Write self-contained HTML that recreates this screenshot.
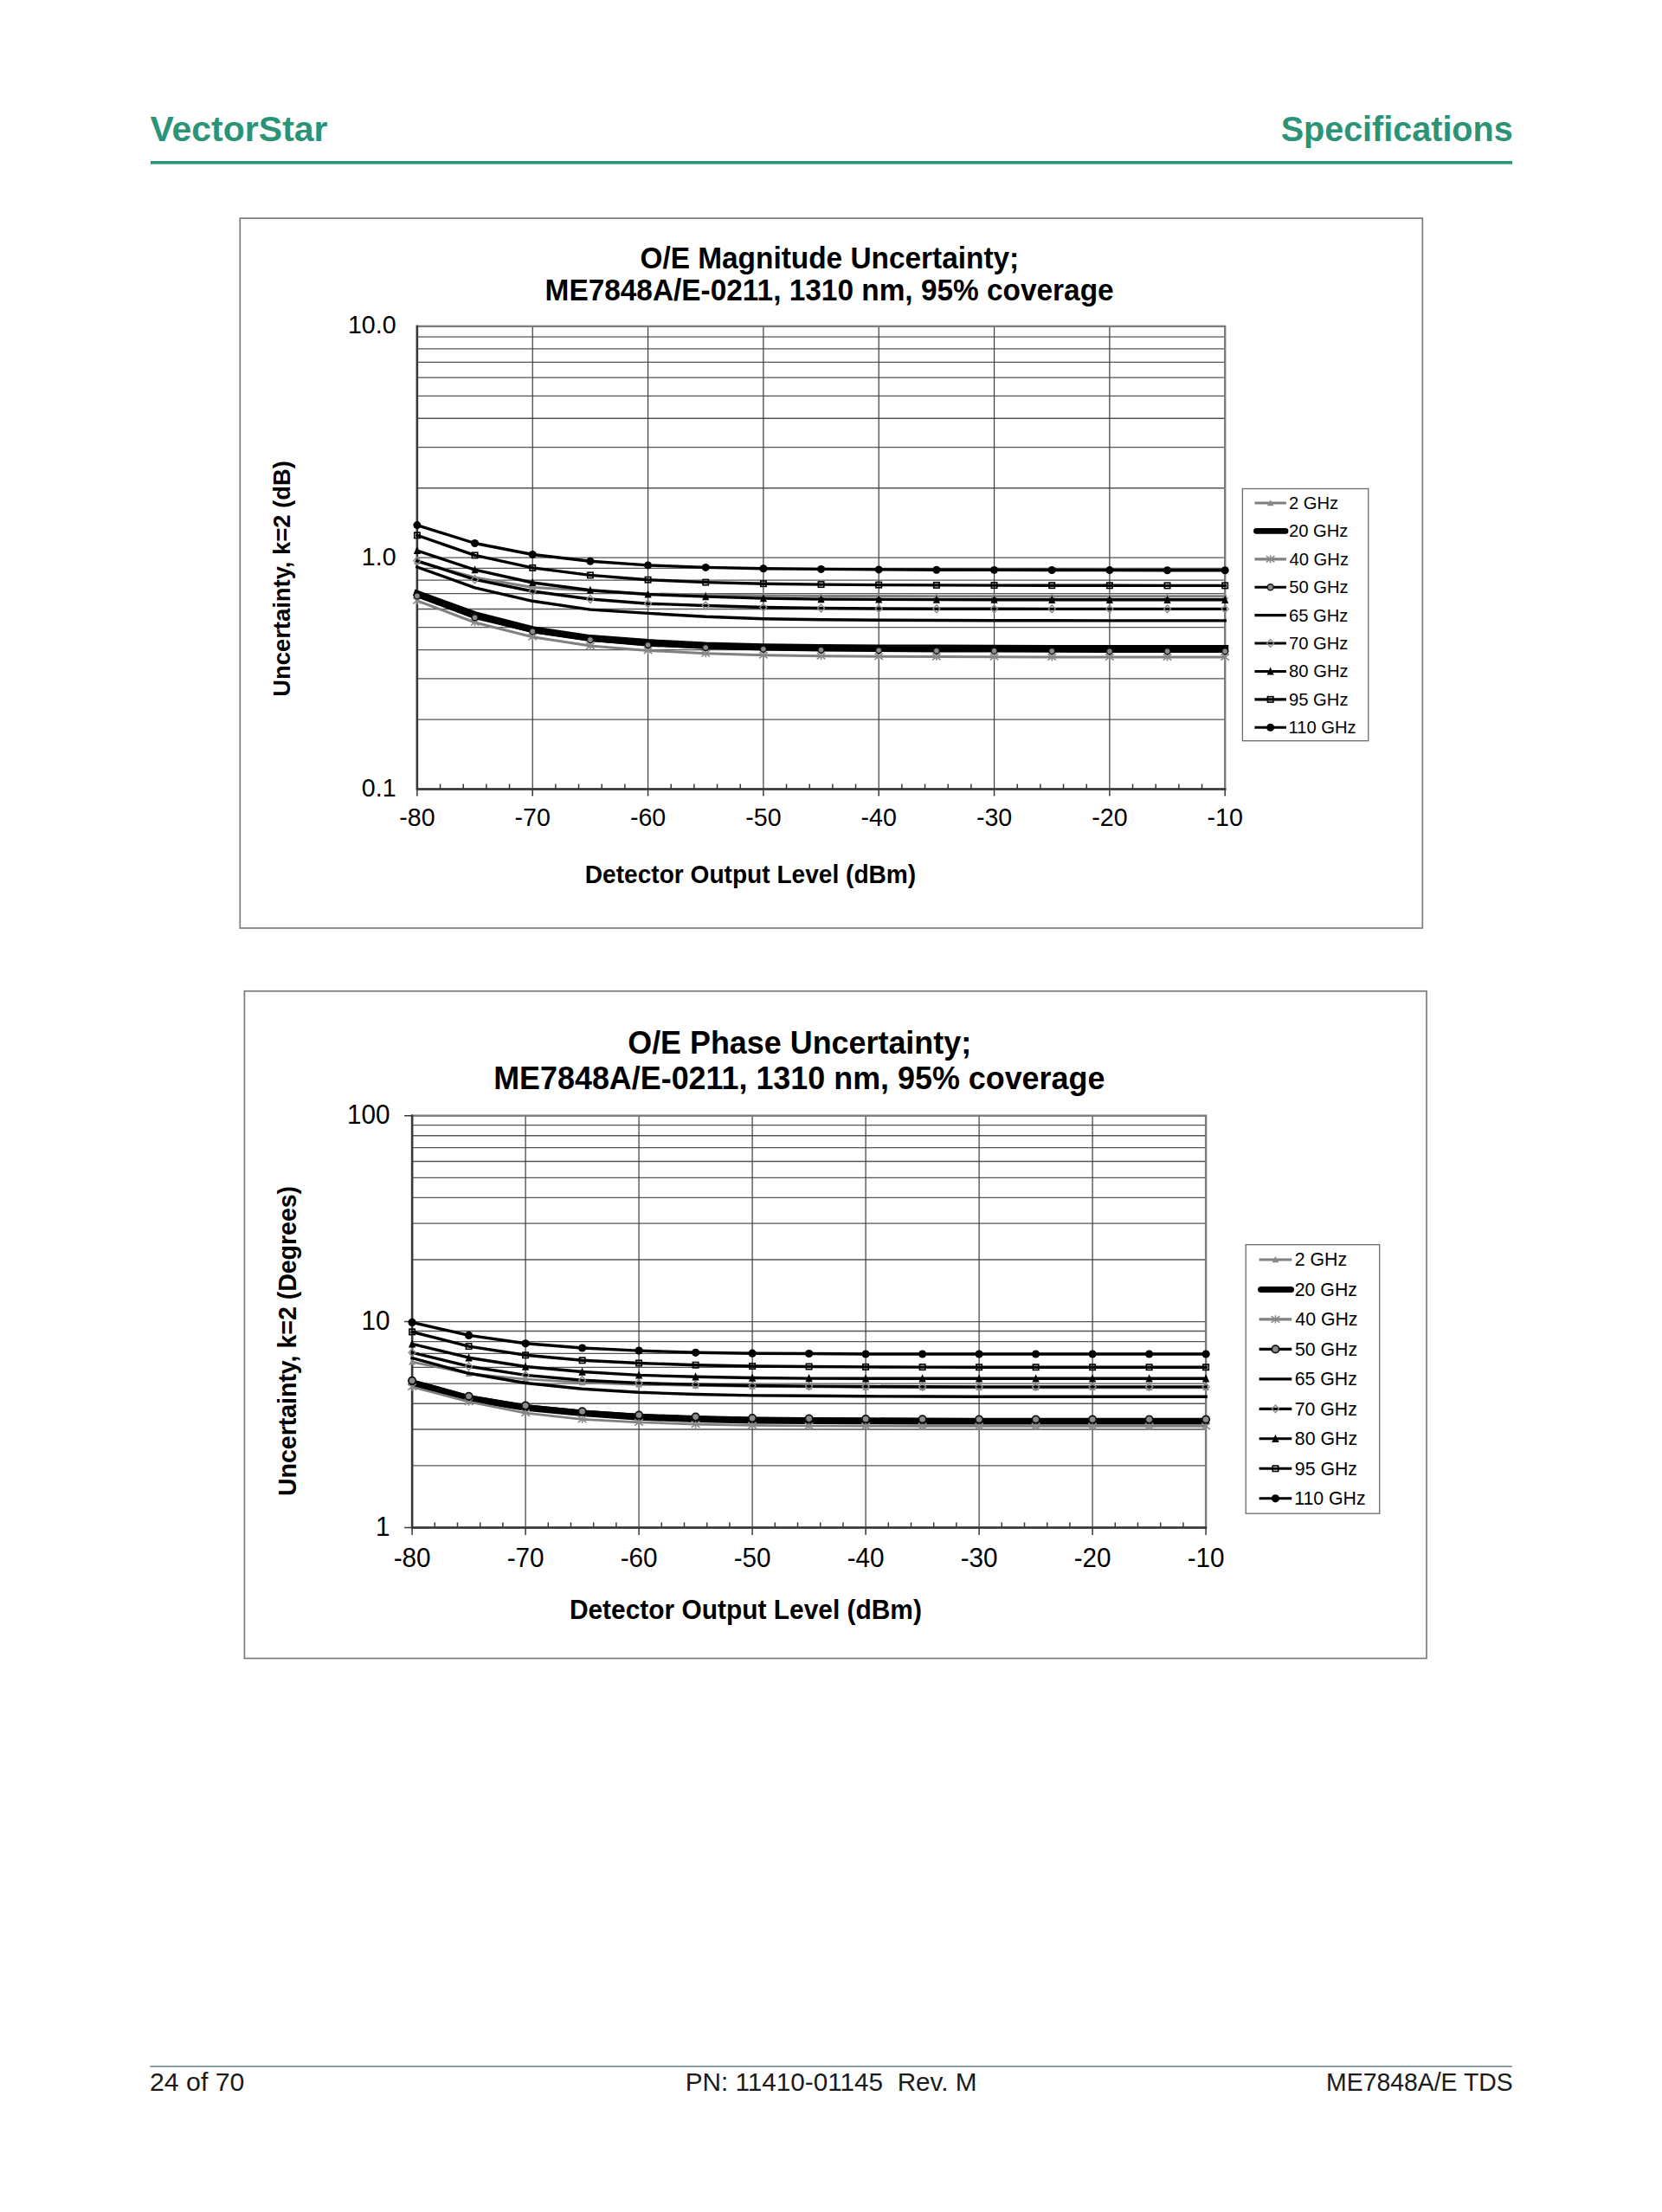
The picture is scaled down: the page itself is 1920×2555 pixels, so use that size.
<!DOCTYPE html>
<html><head><meta charset="utf-8"><title>VectorStar Specifications</title>
<style>html,body{margin:0;padding:0;background:#fff}body{width:1920px;height:2555px;position:relative;overflow:hidden}svg{position:absolute;left:0;top:0;font-family:"Liberation Sans",sans-serif}text{white-space:pre}</style>
</head><body>
<svg width="1920" height="2555" viewBox="0 0 1920 2555">
<text x="173.42" y="162.70" font-size="40.5" font-weight="bold" text-anchor="start" fill="#2c9476"  textLength="205.19" lengthAdjust="spacingAndGlyphs">VectorStar</text>
<text x="1479.63" y="162.70" font-size="40.5" font-weight="bold" text-anchor="start" fill="#2c9476"  textLength="268.03" lengthAdjust="spacingAndGlyphs">Specifications</text>
<rect x="174" y="186" width="1573" height="3.6" fill="#2c9476"/>
<rect x="277.3" y="252.1" width="1366.0" height="819.9" fill="none" stroke="#7c7c7c" stroke-width="1.7"/>
<path d="M481.9 831.03H1415.2 M481.9 783.97H1415.2 M481.9 750.57H1415.2 M481.9 724.67H1415.2 M481.9 703.50H1415.2 M481.9 685.61H1415.2 M481.9 670.10H1415.2 M481.9 656.43H1415.2 M481.9 644.20H1415.2 M481.9 563.73H1415.2 M481.9 516.67H1415.2 M481.9 483.27H1415.2 M481.9 457.37H1415.2 M481.9 436.20H1415.2 M481.9 418.31H1415.2 M481.9 402.80H1415.2 M481.9 389.13H1415.2" stroke="#555" stroke-width="1.3" fill="none"/>
<path d="M615.23 376.9V911.5 M748.56 376.9V911.5 M881.89 376.9V911.5 M1015.21 376.9V911.5 M1148.54 376.9V911.5 M1281.87 376.9V911.5" stroke="#3c3c3c" stroke-width="1.2" fill="none"/>
<rect x="481.9" y="376.9" width="933.30" height="534.60" fill="none" stroke="#7c7c7c" stroke-width="2.4"/>
<path d="M481.9 375.7V912.7M480.7 911.5H1416.4" stroke="#383838" stroke-width="2.4" fill="none"/>
<path d="M481.90 911.5v8 M508.57 911.5v-6 M535.23 911.5v-6 M561.90 911.5v-6 M588.56 911.5v-6 M615.23 911.5v8 M641.89 911.5v-6 M668.56 911.5v-6 M695.23 911.5v-6 M721.89 911.5v-6 M748.56 911.5v8 M775.22 911.5v-6 M801.89 911.5v-6 M828.55 911.5v-6 M855.22 911.5v-6 M881.89 911.5v8 M908.55 911.5v-6 M935.22 911.5v-6 M961.88 911.5v-6 M988.55 911.5v-6 M1015.21 911.5v8 M1041.88 911.5v-6 M1068.55 911.5v-6 M1095.21 911.5v-6 M1121.88 911.5v-6 M1148.54 911.5v8 M1175.21 911.5v-6 M1201.87 911.5v-6 M1228.54 911.5v-6 M1255.21 911.5v-6 M1281.87 911.5v8 M1308.54 911.5v-6 M1335.20 911.5v-6 M1361.87 911.5v-6 M1388.53 911.5v-6 M1415.20 911.5v8" stroke="#383838" stroke-width="1.5" fill="none"/>
<polyline points="481.90,648.50 548.56,667.00 615.23,678.40 681.89,682.30 748.56,685.90 815.22,687.00 881.89,687.90 948.55,688.40 1015.21,688.60 1081.88,688.70 1148.54,688.80 1215.21,688.80 1281.87,688.80 1348.54,688.80 1415.20,688.80" fill="none" stroke="#808080" stroke-width="3.0" stroke-linejoin="round" stroke-linecap="square"/>
<path d="M481.90 644.63L485.77 651.73L478.03 651.73Z" fill="#8a8a8a"/>
<path d="M548.56 663.13L552.43 670.23L544.69 670.23Z" fill="#8a8a8a"/>
<path d="M615.23 674.53L619.10 681.62L611.36 681.62Z" fill="#8a8a8a"/>
<path d="M681.89 678.43L685.76 685.52L678.02 685.52Z" fill="#8a8a8a"/>
<path d="M748.56 682.03L752.43 689.12L744.69 689.12Z" fill="#8a8a8a"/>
<path d="M815.22 683.13L819.09 690.23L811.35 690.23Z" fill="#8a8a8a"/>
<path d="M881.89 684.03L885.76 691.12L878.02 691.12Z" fill="#8a8a8a"/>
<path d="M948.55 684.53L952.42 691.62L944.68 691.62Z" fill="#8a8a8a"/>
<path d="M1015.21 684.73L1019.08 691.83L1011.34 691.83Z" fill="#8a8a8a"/>
<path d="M1081.88 684.83L1085.75 691.93L1078.01 691.93Z" fill="#8a8a8a"/>
<path d="M1148.54 684.93L1152.41 692.02L1144.67 692.02Z" fill="#8a8a8a"/>
<path d="M1215.21 684.93L1219.08 692.02L1211.34 692.02Z" fill="#8a8a8a"/>
<path d="M1281.87 684.93L1285.74 692.02L1278.00 692.02Z" fill="#8a8a8a"/>
<path d="M1348.54 684.93L1352.41 692.02L1344.67 692.02Z" fill="#8a8a8a"/>
<path d="M1415.20 684.93L1419.07 692.02L1411.33 692.02Z" fill="#8a8a8a"/>
<polyline points="481.90,685.70 548.56,710.00 615.23,727.20 681.89,737.10 748.56,742.10 815.22,745.50 881.89,747.20 948.55,748.00 1015.21,748.40 1081.88,748.60 1148.54,748.80 1215.21,748.90 1281.87,748.90 1348.54,748.90 1415.20,748.90" fill="none" stroke="#000" stroke-width="8.0" stroke-linejoin="round" stroke-linecap="square"/>















<polyline points="481.90,693.80 548.56,719.00 615.23,735.80 681.89,746.10 748.56,751.40 815.22,754.80 881.89,756.80 948.55,757.80 1015.21,758.30 1081.88,758.60 1148.54,758.80 1215.21,758.90 1281.87,759.00 1348.54,759.00 1415.20,759.00" fill="none" stroke="#808080" stroke-width="3.0" stroke-linejoin="round" stroke-linecap="square"/>
<path d="M477.17 690.14L486.63 697.45M486.63 690.14L477.17 697.45M481.90 689.28V698.31" stroke="#8a8a8a" stroke-width="1.6" fill="none"/>
<path d="M543.83 715.35L553.29 722.65M553.29 715.35L543.83 722.65M548.56 714.49V723.51" stroke="#8a8a8a" stroke-width="1.6" fill="none"/>
<path d="M610.50 732.14L619.96 739.45M619.96 732.14L610.50 739.45M615.23 731.28V740.31" stroke="#8a8a8a" stroke-width="1.6" fill="none"/>
<path d="M677.16 742.45L686.62 749.75M686.62 742.45L677.16 749.75M681.89 741.59V750.62" stroke="#8a8a8a" stroke-width="1.6" fill="none"/>
<path d="M743.83 747.75L753.29 755.05M753.29 747.75L743.83 755.05M748.56 746.88V755.91" stroke="#8a8a8a" stroke-width="1.6" fill="none"/>
<path d="M810.49 751.14L819.95 758.45M819.95 751.14L810.49 758.45M815.22 750.28V759.31" stroke="#8a8a8a" stroke-width="1.6" fill="none"/>
<path d="M877.16 753.14L886.62 760.45M886.62 753.14L877.16 760.45M881.89 752.28V761.31" stroke="#8a8a8a" stroke-width="1.6" fill="none"/>
<path d="M943.82 754.14L953.28 761.45M953.28 754.14L943.82 761.45M948.55 753.28V762.31" stroke="#8a8a8a" stroke-width="1.6" fill="none"/>
<path d="M1010.48 754.64L1019.94 761.95M1019.94 754.64L1010.48 761.95M1015.21 753.78V762.81" stroke="#8a8a8a" stroke-width="1.6" fill="none"/>
<path d="M1077.15 754.95L1086.61 762.25M1086.61 754.95L1077.15 762.25M1081.88 754.09V763.12" stroke="#8a8a8a" stroke-width="1.6" fill="none"/>
<path d="M1143.81 755.14L1153.27 762.45M1153.27 755.14L1143.81 762.45M1148.54 754.28V763.31" stroke="#8a8a8a" stroke-width="1.6" fill="none"/>
<path d="M1210.48 755.25L1219.94 762.55M1219.94 755.25L1210.48 762.55M1215.21 754.38V763.41" stroke="#8a8a8a" stroke-width="1.6" fill="none"/>
<path d="M1277.14 755.35L1286.60 762.65M1286.60 755.35L1277.14 762.65M1281.87 754.49V763.51" stroke="#8a8a8a" stroke-width="1.6" fill="none"/>
<path d="M1343.81 755.35L1353.27 762.65M1353.27 755.35L1343.81 762.65M1348.54 754.49V763.51" stroke="#8a8a8a" stroke-width="1.6" fill="none"/>
<path d="M1410.47 755.35L1419.93 762.65M1419.93 755.35L1410.47 762.65M1415.20 754.49V763.51" stroke="#8a8a8a" stroke-width="1.6" fill="none"/>
<polyline points="481.90,688.40 548.56,713.30 615.23,729.40 681.89,739.10 748.56,745.00 815.22,748.00 881.89,749.70 948.55,750.70 1015.21,751.30 1081.88,751.70 1148.54,751.90 1215.21,752.10 1281.87,752.20 1348.54,752.20 1415.20,752.20" fill="none" stroke="#000" stroke-width="3.4" stroke-linejoin="round" stroke-linecap="square"/>
<circle cx="481.90" cy="688.40" r="3.50" fill="#8c8c8c" stroke="#111" stroke-width="1.4"/>
<circle cx="548.56" cy="713.30" r="3.50" fill="#8c8c8c" stroke="#111" stroke-width="1.4"/>
<circle cx="615.23" cy="729.40" r="3.50" fill="#8c8c8c" stroke="#111" stroke-width="1.4"/>
<circle cx="681.89" cy="739.10" r="3.50" fill="#8c8c8c" stroke="#111" stroke-width="1.4"/>
<circle cx="748.56" cy="745.00" r="3.50" fill="#8c8c8c" stroke="#111" stroke-width="1.4"/>
<circle cx="815.22" cy="748.00" r="3.50" fill="#8c8c8c" stroke="#111" stroke-width="1.4"/>
<circle cx="881.89" cy="749.70" r="3.50" fill="#8c8c8c" stroke="#111" stroke-width="1.4"/>
<circle cx="948.55" cy="750.70" r="3.50" fill="#8c8c8c" stroke="#111" stroke-width="1.4"/>
<circle cx="1015.21" cy="751.30" r="3.50" fill="#8c8c8c" stroke="#111" stroke-width="1.4"/>
<circle cx="1081.88" cy="751.70" r="3.50" fill="#8c8c8c" stroke="#111" stroke-width="1.4"/>
<circle cx="1148.54" cy="751.90" r="3.50" fill="#8c8c8c" stroke="#111" stroke-width="1.4"/>
<circle cx="1215.21" cy="752.10" r="3.50" fill="#8c8c8c" stroke="#111" stroke-width="1.4"/>
<circle cx="1281.87" cy="752.20" r="3.50" fill="#8c8c8c" stroke="#111" stroke-width="1.4"/>
<circle cx="1348.54" cy="752.20" r="3.50" fill="#8c8c8c" stroke="#111" stroke-width="1.4"/>
<circle cx="1415.20" cy="752.20" r="3.50" fill="#8c8c8c" stroke="#111" stroke-width="1.4"/>
<polyline points="481.90,655.00 548.56,678.80 615.23,694.30 681.89,704.10 748.56,708.40 815.22,712.30 881.89,714.70 948.55,715.70 1015.21,716.20 1081.88,716.50 1148.54,716.70 1215.21,716.80 1281.87,716.90 1348.54,716.90 1415.20,716.90" fill="none" stroke="#000" stroke-width="3.4" stroke-linejoin="round" stroke-linecap="square"/>















<polyline points="481.90,647.80 548.56,669.40 615.23,683.00 681.89,692.00 748.56,697.20 815.22,699.50 881.89,701.50 948.55,702.50 1015.21,703.00 1081.88,703.20 1148.54,703.30 1215.21,703.40 1281.87,703.40 1348.54,703.40 1415.20,703.40" fill="none" stroke="#000" stroke-width="3.4" stroke-linejoin="round" stroke-linecap="square"/>
<path d="M481.90 643.40L485.90 647.80L481.90 652.20L477.90 647.80Z" fill="none" stroke="#8a8a8a" stroke-width="1.4"/>
<path d="M548.56 665.00L552.56 669.40L548.56 673.80L544.56 669.40Z" fill="none" stroke="#8a8a8a" stroke-width="1.4"/>
<path d="M615.23 678.60L619.23 683.00L615.23 687.40L611.23 683.00Z" fill="none" stroke="#8a8a8a" stroke-width="1.4"/>
<path d="M681.89 687.60L685.89 692.00L681.89 696.40L677.89 692.00Z" fill="none" stroke="#8a8a8a" stroke-width="1.4"/>
<path d="M748.56 692.80L752.56 697.20L748.56 701.60L744.56 697.20Z" fill="none" stroke="#8a8a8a" stroke-width="1.4"/>
<path d="M815.22 695.10L819.22 699.50L815.22 703.90L811.22 699.50Z" fill="none" stroke="#8a8a8a" stroke-width="1.4"/>
<path d="M881.89 697.10L885.89 701.50L881.89 705.90L877.89 701.50Z" fill="none" stroke="#8a8a8a" stroke-width="1.4"/>
<path d="M948.55 698.10L952.55 702.50L948.55 706.90L944.55 702.50Z" fill="none" stroke="#8a8a8a" stroke-width="1.4"/>
<path d="M1015.21 698.60L1019.21 703.00L1015.21 707.40L1011.21 703.00Z" fill="none" stroke="#8a8a8a" stroke-width="1.4"/>
<path d="M1081.88 698.80L1085.88 703.20L1081.88 707.60L1077.88 703.20Z" fill="none" stroke="#8a8a8a" stroke-width="1.4"/>
<path d="M1148.54 698.90L1152.54 703.30L1148.54 707.70L1144.54 703.30Z" fill="none" stroke="#8a8a8a" stroke-width="1.4"/>
<path d="M1215.21 699.00L1219.21 703.40L1215.21 707.80L1211.21 703.40Z" fill="none" stroke="#8a8a8a" stroke-width="1.4"/>
<path d="M1281.87 699.00L1285.87 703.40L1281.87 707.80L1277.87 703.40Z" fill="none" stroke="#8a8a8a" stroke-width="1.4"/>
<path d="M1348.54 699.00L1352.54 703.40L1348.54 707.80L1344.54 703.40Z" fill="none" stroke="#8a8a8a" stroke-width="1.4"/>
<path d="M1415.20 699.00L1419.20 703.40L1415.20 707.80L1411.20 703.40Z" fill="none" stroke="#8a8a8a" stroke-width="1.4"/>
<polyline points="481.90,636.00 548.56,658.20 615.23,673.00 681.89,681.70 748.56,686.50 815.22,689.10 881.89,691.10 948.55,692.10 1015.21,692.40 1081.88,692.60 1148.54,692.70 1215.21,692.80 1281.87,692.80 1348.54,692.80 1415.20,692.80" fill="none" stroke="#000" stroke-width="3.4" stroke-linejoin="round" stroke-linecap="square"/>
<path d="M481.90 631.05L485.98 640.09L477.81 640.09Z" fill="#000"/>
<path d="M548.56 653.25L552.65 662.29L544.48 662.29Z" fill="#000"/>
<path d="M615.23 668.05L619.31 677.09L611.14 677.09Z" fill="#000"/>
<path d="M681.89 676.75L685.98 685.79L677.81 685.79Z" fill="#000"/>
<path d="M748.56 681.55L752.64 690.59L744.47 690.59Z" fill="#000"/>
<path d="M815.22 684.15L819.31 693.19L811.14 693.19Z" fill="#000"/>
<path d="M881.89 686.15L885.97 695.19L877.80 695.19Z" fill="#000"/>
<path d="M948.55 687.15L952.63 696.19L944.46 696.19Z" fill="#000"/>
<path d="M1015.21 687.45L1019.30 696.49L1011.13 696.49Z" fill="#000"/>
<path d="M1081.88 687.65L1085.96 696.69L1077.79 696.69Z" fill="#000"/>
<path d="M1148.54 687.75L1152.63 696.79L1144.46 696.79Z" fill="#000"/>
<path d="M1215.21 687.85L1219.29 696.88L1211.12 696.88Z" fill="#000"/>
<path d="M1281.87 687.85L1285.96 696.88L1277.79 696.88Z" fill="#000"/>
<path d="M1348.54 687.85L1352.62 696.88L1344.45 696.88Z" fill="#000"/>
<path d="M1415.20 687.85L1419.29 696.88L1411.12 696.88Z" fill="#000"/>
<polyline points="481.90,618.30 548.56,641.40 615.23,655.90 681.89,664.40 748.56,669.70 815.22,672.60 881.89,674.20 948.55,675.10 1015.21,675.60 1081.88,675.90 1148.54,676.10 1215.21,676.20 1281.87,676.30 1348.54,676.40 1415.20,676.40" fill="none" stroke="#000" stroke-width="3.4" stroke-linejoin="round" stroke-linecap="square"/>
<rect x="478.70" y="615.10" width="6.40" height="6.40" fill="none" stroke="#000" stroke-width="1.6"/>
<rect x="545.36" y="638.20" width="6.40" height="6.40" fill="none" stroke="#000" stroke-width="1.6"/>
<rect x="612.03" y="652.70" width="6.40" height="6.40" fill="none" stroke="#000" stroke-width="1.6"/>
<rect x="678.69" y="661.20" width="6.40" height="6.40" fill="none" stroke="#000" stroke-width="1.6"/>
<rect x="745.36" y="666.50" width="6.40" height="6.40" fill="none" stroke="#000" stroke-width="1.6"/>
<rect x="812.02" y="669.40" width="6.40" height="6.40" fill="none" stroke="#000" stroke-width="1.6"/>
<rect x="878.69" y="671.00" width="6.40" height="6.40" fill="none" stroke="#000" stroke-width="1.6"/>
<rect x="945.35" y="671.90" width="6.40" height="6.40" fill="none" stroke="#000" stroke-width="1.6"/>
<rect x="1012.01" y="672.40" width="6.40" height="6.40" fill="none" stroke="#000" stroke-width="1.6"/>
<rect x="1078.68" y="672.70" width="6.40" height="6.40" fill="none" stroke="#000" stroke-width="1.6"/>
<rect x="1145.34" y="672.90" width="6.40" height="6.40" fill="none" stroke="#000" stroke-width="1.6"/>
<rect x="1212.01" y="673.00" width="6.40" height="6.40" fill="none" stroke="#000" stroke-width="1.6"/>
<rect x="1278.67" y="673.10" width="6.40" height="6.40" fill="none" stroke="#000" stroke-width="1.6"/>
<rect x="1345.34" y="673.20" width="6.40" height="6.40" fill="none" stroke="#000" stroke-width="1.6"/>
<rect x="1412.00" y="673.20" width="6.40" height="6.40" fill="none" stroke="#000" stroke-width="1.6"/>
<polyline points="481.90,606.60 548.56,627.50 615.23,640.50 681.89,648.30 748.56,652.90 815.22,655.40 881.89,656.70 948.55,657.40 1015.21,657.90 1081.88,658.20 1148.54,658.40 1215.21,658.50 1281.87,658.60 1348.54,658.70 1415.20,658.70" fill="none" stroke="#000" stroke-width="3.4" stroke-linejoin="round" stroke-linecap="square"/>
<circle cx="481.90" cy="606.60" r="4.51" fill="#000"/>
<circle cx="548.56" cy="627.50" r="4.51" fill="#000"/>
<circle cx="615.23" cy="640.50" r="4.51" fill="#000"/>
<circle cx="681.89" cy="648.30" r="4.51" fill="#000"/>
<circle cx="748.56" cy="652.90" r="4.51" fill="#000"/>
<circle cx="815.22" cy="655.40" r="4.51" fill="#000"/>
<circle cx="881.89" cy="656.70" r="4.51" fill="#000"/>
<circle cx="948.55" cy="657.40" r="4.51" fill="#000"/>
<circle cx="1015.21" cy="657.90" r="4.51" fill="#000"/>
<circle cx="1081.88" cy="658.20" r="4.51" fill="#000"/>
<circle cx="1148.54" cy="658.40" r="4.51" fill="#000"/>
<circle cx="1215.21" cy="658.50" r="4.51" fill="#000"/>
<circle cx="1281.87" cy="658.60" r="4.51" fill="#000"/>
<circle cx="1348.54" cy="658.70" r="4.51" fill="#000"/>
<circle cx="1415.20" cy="658.70" r="4.51" fill="#000"/>
<rect x="1435.4" y="564.5" width="145.40" height="291.20" fill="#fff" stroke="#6a6a6a" stroke-width="1.3"/>
<line x1="1449.4" y1="581.00" x2="1485.9" y2="581.00" stroke="#808080" stroke-width="3.1999999999999997"/>
<path d="M1467.65 577.13L1471.52 584.23L1463.78 584.23Z" fill="#8a8a8a"/>
<text transform="translate(1488.98,588.00) scale(1,1.04)" font-size="20.2" font-weight="normal" text-anchor="start" fill="#000" >2 GHz</text>
<line x1="1451.4" y1="613.41" x2="1485.1000000000001" y2="613.41" stroke="#000" stroke-width="6.6" stroke-linecap="round"/>
<text transform="translate(1488.98,620.41) scale(1,1.04)" font-size="20.2" font-weight="normal" text-anchor="start" fill="#000" >20 GHz</text>
<line x1="1449.4" y1="645.82" x2="1485.9" y2="645.82" stroke="#808080" stroke-width="3.1999999999999997"/>
<path d="M1462.92 642.16L1472.38 649.47M1472.38 642.16L1462.92 649.47M1467.65 641.30V650.33" stroke="#8a8a8a" stroke-width="1.6" fill="none"/>
<text transform="translate(1489.54,652.82) scale(1,1.04)" font-size="20.2" font-weight="normal" text-anchor="start" fill="#000" >40 GHz</text>
<line x1="1449.4" y1="678.23" x2="1485.9" y2="678.23" stroke="#000" stroke-width="3.1"/>
<circle cx="1467.65" cy="678.23" r="3.50" fill="#8c8c8c" stroke="#111" stroke-width="1.4"/>
<text transform="translate(1489.19,685.23) scale(1,1.04)" font-size="20.2" font-weight="normal" text-anchor="start" fill="#000" >50 GHz</text>
<line x1="1449.4" y1="710.64" x2="1485.9" y2="710.64" stroke="#000" stroke-width="3.1"/>

<text transform="translate(1488.97,717.64) scale(1,1.04)" font-size="20.2" font-weight="normal" text-anchor="start" fill="#000" >65 GHz</text>
<line x1="1449.4" y1="743.05" x2="1485.9" y2="743.05" stroke="#000" stroke-width="3.1"/>
<path d="M1467.65 738.65L1471.65 743.05L1467.65 747.45L1463.65 743.05Z" fill="none" stroke="#8a8a8a" stroke-width="1.4"/>
<text transform="translate(1488.96,750.05) scale(1,1.04)" font-size="20.2" font-weight="normal" text-anchor="start" fill="#000" >70 GHz</text>
<line x1="1449.4" y1="775.46" x2="1485.9" y2="775.46" stroke="#000" stroke-width="3.1"/>
<path d="M1467.65 770.51L1471.74 779.55L1463.57 779.55Z" fill="#000"/>
<text transform="translate(1489.12,782.46) scale(1,1.04)" font-size="20.2" font-weight="normal" text-anchor="start" fill="#000" >80 GHz</text>
<line x1="1449.4" y1="807.87" x2="1485.9" y2="807.87" stroke="#000" stroke-width="3.1"/>
<rect x="1464.45" y="804.67" width="6.40" height="6.40" fill="none" stroke="#000" stroke-width="1.6"/>
<text transform="translate(1489.05,814.87) scale(1,1.04)" font-size="20.2" font-weight="normal" text-anchor="start" fill="#000" >95 GHz</text>
<line x1="1449.4" y1="840.28" x2="1485.9" y2="840.28" stroke="#000" stroke-width="3.1"/>
<circle cx="1467.65" cy="840.28" r="4.51" fill="#000"/>
<text transform="translate(1488.46,847.28) scale(1,1.04)" font-size="20.2" font-weight="normal" text-anchor="start" fill="#000" >110 GHz</text>
<text transform="translate(457.60,385.40) scale(1,1.04)" font-size="28.6" font-weight="normal" text-anchor="end" fill="#000" >10.0</text>
<text transform="translate(457.60,653.20) scale(1,1.04)" font-size="28.6" font-weight="normal" text-anchor="end" fill="#000" >1.0</text>
<text transform="translate(457.60,920.30) scale(1,1.04)" font-size="28.6" font-weight="normal" text-anchor="end" fill="#000" >0.1</text>
<text transform="translate(481.90,953.80) scale(1,1.04)" font-size="28.6" font-weight="normal" text-anchor="middle" fill="#000" >-80</text>
<text transform="translate(615.23,953.80) scale(1,1.04)" font-size="28.6" font-weight="normal" text-anchor="middle" fill="#000" >-70</text>
<text transform="translate(748.56,953.80) scale(1,1.04)" font-size="28.6" font-weight="normal" text-anchor="middle" fill="#000" >-60</text>
<text transform="translate(881.89,953.80) scale(1,1.04)" font-size="28.6" font-weight="normal" text-anchor="middle" fill="#000" >-50</text>
<text transform="translate(1015.21,953.80) scale(1,1.04)" font-size="28.6" font-weight="normal" text-anchor="middle" fill="#000" >-40</text>
<text transform="translate(1148.54,953.80) scale(1,1.04)" font-size="28.6" font-weight="normal" text-anchor="middle" fill="#000" >-30</text>
<text transform="translate(1281.87,953.80) scale(1,1.04)" font-size="28.6" font-weight="normal" text-anchor="middle" fill="#000" >-20</text>
<text transform="translate(1415.20,953.80) scale(1,1.04)" font-size="28.6" font-weight="normal" text-anchor="middle" fill="#000" >-10</text>
<text transform="translate(739.43,309.50) scale(1,1.04)" font-size="33.4" font-weight="bold" text-anchor="start" fill="#000" >O/E Magnitude Uncertainty;</text>
<text transform="translate(629.57,346.90) scale(1,1.04)" font-size="33.4" font-weight="bold" text-anchor="start" fill="#000" >ME7848A/E-0211, 1310 nm, 95% coverage</text>
<text transform="translate(675.82,1019.90) scale(1,1.04)" font-size="28.1" font-weight="bold" text-anchor="start" fill="#000" >Detector Output Level (dBm)</text>
<g transform="translate(335.0,803.1) rotate(-90)">
<text transform="translate(-1.65,0.00) scale(1,1.04)" font-size="27.4" font-weight="bold" text-anchor="start" fill="#000" >Uncertainty, k=2 (dB)</text>
</g>
<rect x="282.4" y="1144.8" width="1365.6" height="770.7" fill="none" stroke="#7c7c7c" stroke-width="1.7"/>
<path d="M476.1 1692.88H1393.1 M476.1 1650.99H1393.1 M476.1 1621.27H1393.1 M476.1 1598.22H1393.1 M476.1 1579.38H1393.1 M476.1 1563.45H1393.1 M476.1 1549.65H1393.1 M476.1 1537.49H1393.1 M476.1 1526.60H1393.1 M476.1 1454.98H1393.1 M476.1 1413.09H1393.1 M476.1 1383.37H1393.1 M476.1 1360.32H1393.1 M476.1 1341.48H1393.1 M476.1 1325.55H1393.1 M476.1 1311.75H1393.1 M476.1 1299.59H1393.1" stroke="#555" stroke-width="1.3" fill="none"/>
<path d="M607.10 1288.7V1764.5 M738.10 1288.7V1764.5 M869.10 1288.7V1764.5 M1000.10 1288.7V1764.5 M1131.10 1288.7V1764.5 M1262.10 1288.7V1764.5" stroke="#3c3c3c" stroke-width="1.2" fill="none"/>
<rect x="476.1" y="1288.7" width="917.00" height="475.80" fill="none" stroke="#7c7c7c" stroke-width="2.4"/>
<path d="M476.1 1287.5V1765.7M474.9 1764.5H1394.3" stroke="#383838" stroke-width="2.4" fill="none"/>
<path d="M476.10 1764.5v8.5 M502.30 1764.5v-6 M528.50 1764.5v-6 M554.70 1764.5v-6 M580.90 1764.5v-6 M607.10 1764.5v8.5 M633.30 1764.5v-6 M659.50 1764.5v-6 M685.70 1764.5v-6 M711.90 1764.5v-6 M738.10 1764.5v8.5 M764.30 1764.5v-6 M790.50 1764.5v-6 M816.70 1764.5v-6 M842.90 1764.5v-6 M869.10 1764.5v8.5 M895.30 1764.5v-6 M921.50 1764.5v-6 M947.70 1764.5v-6 M973.90 1764.5v-6 M1000.10 1764.5v8.5 M1026.30 1764.5v-6 M1052.50 1764.5v-6 M1078.70 1764.5v-6 M1104.90 1764.5v-6 M1131.10 1764.5v8.5 M1157.30 1764.5v-6 M1183.50 1764.5v-6 M1209.70 1764.5v-6 M1235.90 1764.5v-6 M1262.10 1764.5v8.5 M1288.30 1764.5v-6 M1314.50 1764.5v-6 M1340.70 1764.5v-6 M1366.90 1764.5v-6 M1393.10 1764.5v8.5 M476.1 1764.50h-9 M476.1 1526.60h-9 M476.1 1288.70h-9" stroke="#383838" stroke-width="1.5" fill="none"/>
<polyline points="476.10,1573.10 541.60,1586.60 607.10,1593.00 672.60,1596.90 738.10,1599.30 803.60,1600.50 869.10,1601.50 934.60,1602.00 1000.10,1602.40 1065.60,1602.60 1131.10,1602.80 1196.60,1602.80 1262.10,1602.80 1327.60,1602.80 1393.10,1602.80" fill="none" stroke="#808080" stroke-width="2.7" stroke-linejoin="round" stroke-linecap="square"/>
<path d="M476.10 1569.14L480.06 1576.40L472.14 1576.40Z" fill="#8a8a8a"/>
<path d="M541.60 1582.64L545.56 1589.90L537.64 1589.90Z" fill="#8a8a8a"/>
<path d="M607.10 1589.04L611.06 1596.30L603.14 1596.30Z" fill="#8a8a8a"/>
<path d="M672.60 1592.94L676.56 1600.20L668.64 1600.20Z" fill="#8a8a8a"/>
<path d="M738.10 1595.34L742.06 1602.60L734.14 1602.60Z" fill="#8a8a8a"/>
<path d="M803.60 1596.54L807.56 1603.80L799.64 1603.80Z" fill="#8a8a8a"/>
<path d="M869.10 1597.54L873.06 1604.80L865.14 1604.80Z" fill="#8a8a8a"/>
<path d="M934.60 1598.04L938.56 1605.30L930.64 1605.30Z" fill="#8a8a8a"/>
<path d="M1000.10 1598.44L1004.06 1605.70L996.14 1605.70Z" fill="#8a8a8a"/>
<path d="M1065.60 1598.64L1069.56 1605.90L1061.64 1605.90Z" fill="#8a8a8a"/>
<path d="M1131.10 1598.84L1135.06 1606.10L1127.14 1606.10Z" fill="#8a8a8a"/>
<path d="M1196.60 1598.84L1200.56 1606.10L1192.64 1606.10Z" fill="#8a8a8a"/>
<path d="M1262.10 1598.84L1266.06 1606.10L1258.14 1606.10Z" fill="#8a8a8a"/>
<path d="M1327.60 1598.84L1331.56 1606.10L1323.64 1606.10Z" fill="#8a8a8a"/>
<path d="M1393.10 1598.84L1397.06 1606.10L1389.14 1606.10Z" fill="#8a8a8a"/>
<polyline points="476.10,1597.30 541.60,1615.20 607.10,1626.00 672.60,1632.30 738.10,1636.90 803.60,1639.30 869.10,1640.60 934.60,1641.10 1000.10,1641.50 1065.60,1641.70 1131.10,1641.80 1196.60,1641.80 1262.10,1641.80 1327.60,1641.80 1393.10,1641.80" fill="none" stroke="#000" stroke-width="7.6" stroke-linejoin="round" stroke-linecap="square"/>















<polyline points="476.10,1602.00 541.60,1619.10 607.10,1632.20 672.60,1639.30 738.10,1642.90 803.60,1645.10 869.10,1646.40 934.60,1647.00 1000.10,1647.20 1065.60,1647.30 1131.10,1647.40 1196.60,1647.40 1262.10,1647.40 1327.60,1647.40 1393.10,1647.40" fill="none" stroke="#808080" stroke-width="2.7" stroke-linejoin="round" stroke-linecap="square"/>
<path d="M471.26 1598.26L480.94 1605.74M480.94 1598.26L471.26 1605.74M476.10 1597.38V1606.62" stroke="#8a8a8a" stroke-width="1.6" fill="none"/>
<path d="M536.76 1615.36L546.44 1622.84M546.44 1615.36L536.76 1622.84M541.60 1614.48V1623.72" stroke="#8a8a8a" stroke-width="1.6" fill="none"/>
<path d="M602.26 1628.46L611.94 1635.94M611.94 1628.46L602.26 1635.94M607.10 1627.58V1636.82" stroke="#8a8a8a" stroke-width="1.6" fill="none"/>
<path d="M667.76 1635.56L677.44 1643.04M677.44 1635.56L667.76 1643.04M672.60 1634.68V1643.92" stroke="#8a8a8a" stroke-width="1.6" fill="none"/>
<path d="M733.26 1639.16L742.94 1646.64M742.94 1639.16L733.26 1646.64M738.10 1638.28V1647.52" stroke="#8a8a8a" stroke-width="1.6" fill="none"/>
<path d="M798.76 1641.36L808.44 1648.84M808.44 1641.36L798.76 1648.84M803.60 1640.48V1649.72" stroke="#8a8a8a" stroke-width="1.6" fill="none"/>
<path d="M864.26 1642.66L873.94 1650.14M873.94 1642.66L864.26 1650.14M869.10 1641.78V1651.02" stroke="#8a8a8a" stroke-width="1.6" fill="none"/>
<path d="M929.76 1643.26L939.44 1650.74M939.44 1643.26L929.76 1650.74M934.60 1642.38V1651.62" stroke="#8a8a8a" stroke-width="1.6" fill="none"/>
<path d="M995.26 1643.46L1004.94 1650.94M1004.94 1643.46L995.26 1650.94M1000.10 1642.58V1651.82" stroke="#8a8a8a" stroke-width="1.6" fill="none"/>
<path d="M1060.76 1643.56L1070.44 1651.04M1070.44 1643.56L1060.76 1651.04M1065.60 1642.68V1651.92" stroke="#8a8a8a" stroke-width="1.6" fill="none"/>
<path d="M1126.26 1643.66L1135.94 1651.14M1135.94 1643.66L1126.26 1651.14M1131.10 1642.78V1652.02" stroke="#8a8a8a" stroke-width="1.6" fill="none"/>
<path d="M1191.76 1643.66L1201.44 1651.14M1201.44 1643.66L1191.76 1651.14M1196.60 1642.78V1652.02" stroke="#8a8a8a" stroke-width="1.6" fill="none"/>
<path d="M1257.26 1643.66L1266.94 1651.14M1266.94 1643.66L1257.26 1651.14M1262.10 1642.78V1652.02" stroke="#8a8a8a" stroke-width="1.6" fill="none"/>
<path d="M1322.76 1643.66L1332.44 1651.14M1332.44 1643.66L1322.76 1651.14M1327.60 1642.78V1652.02" stroke="#8a8a8a" stroke-width="1.6" fill="none"/>
<path d="M1388.26 1643.66L1397.94 1651.14M1397.94 1643.66L1388.26 1651.14M1393.10 1642.78V1652.02" stroke="#8a8a8a" stroke-width="1.6" fill="none"/>
<polyline points="476.10,1594.80 541.60,1612.80 607.10,1623.60 672.60,1630.30 738.10,1634.50 803.60,1636.60 869.10,1638.10 934.60,1638.60 1000.10,1639.00 1065.60,1639.30 1131.10,1639.50 1196.60,1639.50 1262.10,1639.50 1327.60,1639.50 1393.10,1639.50" fill="none" stroke="#000" stroke-width="3.4" stroke-linejoin="round" stroke-linecap="square"/>
<circle cx="476.10" cy="1594.80" r="4.20" fill="#8c8c8c" stroke="#111" stroke-width="1.8"/>
<circle cx="541.60" cy="1612.80" r="4.20" fill="#8c8c8c" stroke="#111" stroke-width="1.8"/>
<circle cx="607.10" cy="1623.60" r="4.20" fill="#8c8c8c" stroke="#111" stroke-width="1.8"/>
<circle cx="672.60" cy="1630.30" r="4.20" fill="#8c8c8c" stroke="#111" stroke-width="1.8"/>
<circle cx="738.10" cy="1634.50" r="4.20" fill="#8c8c8c" stroke="#111" stroke-width="1.8"/>
<circle cx="803.60" cy="1636.60" r="4.20" fill="#8c8c8c" stroke="#111" stroke-width="1.8"/>
<circle cx="869.10" cy="1638.10" r="4.20" fill="#8c8c8c" stroke="#111" stroke-width="1.8"/>
<circle cx="934.60" cy="1638.60" r="4.20" fill="#8c8c8c" stroke="#111" stroke-width="1.8"/>
<circle cx="1000.10" cy="1639.00" r="4.20" fill="#8c8c8c" stroke="#111" stroke-width="1.8"/>
<circle cx="1065.60" cy="1639.30" r="4.20" fill="#8c8c8c" stroke="#111" stroke-width="1.8"/>
<circle cx="1131.10" cy="1639.50" r="4.20" fill="#8c8c8c" stroke="#111" stroke-width="1.8"/>
<circle cx="1196.60" cy="1639.50" r="4.20" fill="#8c8c8c" stroke="#111" stroke-width="1.8"/>
<circle cx="1262.10" cy="1639.50" r="4.20" fill="#8c8c8c" stroke="#111" stroke-width="1.8"/>
<circle cx="1327.60" cy="1639.50" r="4.20" fill="#8c8c8c" stroke="#111" stroke-width="1.8"/>
<circle cx="1393.10" cy="1639.50" r="4.20" fill="#8c8c8c" stroke="#111" stroke-width="1.8"/>
<polyline points="476.10,1568.60 541.60,1586.30 607.10,1597.50 672.60,1604.30 738.10,1608.30 803.60,1610.50 869.10,1611.90 934.60,1612.30 1000.10,1612.80 1065.60,1613.00 1131.10,1613.20 1196.60,1613.20 1262.10,1613.20 1327.60,1613.20 1393.10,1613.20" fill="none" stroke="#000" stroke-width="3.4" stroke-linejoin="round" stroke-linecap="square"/>















<polyline points="476.10,1562.30 541.60,1578.20 607.10,1588.40 672.60,1594.20 738.10,1597.50 803.60,1599.30 869.10,1600.50 934.60,1601.10 1000.10,1601.50 1065.60,1601.80 1131.10,1601.90 1196.60,1601.90 1262.10,1601.90 1327.60,1601.90 1393.10,1601.90" fill="none" stroke="#000" stroke-width="3.4" stroke-linejoin="round" stroke-linecap="square"/>
<path d="M476.10 1557.90L480.10 1562.30L476.10 1566.70L472.10 1562.30Z" fill="none" stroke="#8a8a8a" stroke-width="1.4"/>
<path d="M541.60 1573.80L545.60 1578.20L541.60 1582.60L537.60 1578.20Z" fill="none" stroke="#8a8a8a" stroke-width="1.4"/>
<path d="M607.10 1584.00L611.10 1588.40L607.10 1592.80L603.10 1588.40Z" fill="none" stroke="#8a8a8a" stroke-width="1.4"/>
<path d="M672.60 1589.80L676.60 1594.20L672.60 1598.60L668.60 1594.20Z" fill="none" stroke="#8a8a8a" stroke-width="1.4"/>
<path d="M738.10 1593.10L742.10 1597.50L738.10 1601.90L734.10 1597.50Z" fill="none" stroke="#8a8a8a" stroke-width="1.4"/>
<path d="M803.60 1594.90L807.60 1599.30L803.60 1603.70L799.60 1599.30Z" fill="none" stroke="#8a8a8a" stroke-width="1.4"/>
<path d="M869.10 1596.10L873.10 1600.50L869.10 1604.90L865.10 1600.50Z" fill="none" stroke="#8a8a8a" stroke-width="1.4"/>
<path d="M934.60 1596.70L938.60 1601.10L934.60 1605.50L930.60 1601.10Z" fill="none" stroke="#8a8a8a" stroke-width="1.4"/>
<path d="M1000.10 1597.10L1004.10 1601.50L1000.10 1605.90L996.10 1601.50Z" fill="none" stroke="#8a8a8a" stroke-width="1.4"/>
<path d="M1065.60 1597.40L1069.60 1601.80L1065.60 1606.20L1061.60 1601.80Z" fill="none" stroke="#8a8a8a" stroke-width="1.4"/>
<path d="M1131.10 1597.50L1135.10 1601.90L1131.10 1606.30L1127.10 1601.90Z" fill="none" stroke="#8a8a8a" stroke-width="1.4"/>
<path d="M1196.60 1597.50L1200.60 1601.90L1196.60 1606.30L1192.60 1601.90Z" fill="none" stroke="#8a8a8a" stroke-width="1.4"/>
<path d="M1262.10 1597.50L1266.10 1601.90L1262.10 1606.30L1258.10 1601.90Z" fill="none" stroke="#8a8a8a" stroke-width="1.4"/>
<path d="M1327.60 1597.50L1331.60 1601.90L1327.60 1606.30L1323.60 1601.90Z" fill="none" stroke="#8a8a8a" stroke-width="1.4"/>
<path d="M1393.10 1597.50L1397.10 1601.90L1393.10 1606.30L1389.10 1601.90Z" fill="none" stroke="#8a8a8a" stroke-width="1.4"/>
<polyline points="476.10,1552.30 541.60,1568.20 607.10,1578.50 672.60,1584.50 738.10,1588.40 803.60,1590.30 869.10,1591.50 934.60,1592.10 1000.10,1592.30 1065.60,1592.30 1131.10,1592.30 1196.60,1592.30 1262.10,1592.30 1327.60,1592.30 1393.10,1592.30" fill="none" stroke="#000" stroke-width="3.4" stroke-linejoin="round" stroke-linecap="square"/>
<path d="M476.10 1547.24L480.28 1556.48L471.92 1556.48Z" fill="#000"/>
<path d="M541.60 1563.14L545.78 1572.38L537.42 1572.38Z" fill="#000"/>
<path d="M607.10 1573.44L611.28 1582.68L602.92 1582.68Z" fill="#000"/>
<path d="M672.60 1579.44L676.78 1588.68L668.42 1588.68Z" fill="#000"/>
<path d="M738.10 1583.34L742.28 1592.58L733.92 1592.58Z" fill="#000"/>
<path d="M803.60 1585.24L807.78 1594.48L799.42 1594.48Z" fill="#000"/>
<path d="M869.10 1586.44L873.28 1595.68L864.92 1595.68Z" fill="#000"/>
<path d="M934.60 1587.04L938.78 1596.28L930.42 1596.28Z" fill="#000"/>
<path d="M1000.10 1587.24L1004.28 1596.48L995.92 1596.48Z" fill="#000"/>
<path d="M1065.60 1587.24L1069.78 1596.48L1061.42 1596.48Z" fill="#000"/>
<path d="M1131.10 1587.24L1135.28 1596.48L1126.92 1596.48Z" fill="#000"/>
<path d="M1196.60 1587.24L1200.78 1596.48L1192.42 1596.48Z" fill="#000"/>
<path d="M1262.10 1587.24L1266.28 1596.48L1257.92 1596.48Z" fill="#000"/>
<path d="M1327.60 1587.24L1331.78 1596.48L1323.42 1596.48Z" fill="#000"/>
<path d="M1393.10 1587.24L1397.28 1596.48L1388.92 1596.48Z" fill="#000"/>
<polyline points="476.10,1538.40 541.60,1555.10 607.10,1565.30 672.60,1571.30 738.10,1574.50 803.60,1576.70 869.10,1578.00 934.60,1578.50 1000.10,1578.90 1065.60,1579.10 1131.10,1579.20 1196.60,1579.20 1262.10,1579.20 1327.60,1579.20 1393.10,1579.20" fill="none" stroke="#000" stroke-width="3.4" stroke-linejoin="round" stroke-linecap="square"/>
<rect x="472.90" y="1535.20" width="6.40" height="6.40" fill="none" stroke="#000" stroke-width="1.6"/>
<rect x="538.40" y="1551.90" width="6.40" height="6.40" fill="none" stroke="#000" stroke-width="1.6"/>
<rect x="603.90" y="1562.10" width="6.40" height="6.40" fill="none" stroke="#000" stroke-width="1.6"/>
<rect x="669.40" y="1568.10" width="6.40" height="6.40" fill="none" stroke="#000" stroke-width="1.6"/>
<rect x="734.90" y="1571.30" width="6.40" height="6.40" fill="none" stroke="#000" stroke-width="1.6"/>
<rect x="800.40" y="1573.50" width="6.40" height="6.40" fill="none" stroke="#000" stroke-width="1.6"/>
<rect x="865.90" y="1574.80" width="6.40" height="6.40" fill="none" stroke="#000" stroke-width="1.6"/>
<rect x="931.40" y="1575.30" width="6.40" height="6.40" fill="none" stroke="#000" stroke-width="1.6"/>
<rect x="996.90" y="1575.70" width="6.40" height="6.40" fill="none" stroke="#000" stroke-width="1.6"/>
<rect x="1062.40" y="1575.90" width="6.40" height="6.40" fill="none" stroke="#000" stroke-width="1.6"/>
<rect x="1127.90" y="1576.00" width="6.40" height="6.40" fill="none" stroke="#000" stroke-width="1.6"/>
<rect x="1193.40" y="1576.00" width="6.40" height="6.40" fill="none" stroke="#000" stroke-width="1.6"/>
<rect x="1258.90" y="1576.00" width="6.40" height="6.40" fill="none" stroke="#000" stroke-width="1.6"/>
<rect x="1324.40" y="1576.00" width="6.40" height="6.40" fill="none" stroke="#000" stroke-width="1.6"/>
<rect x="1389.90" y="1576.00" width="6.40" height="6.40" fill="none" stroke="#000" stroke-width="1.6"/>
<polyline points="476.10,1527.40 541.60,1542.40 607.10,1551.80 672.60,1557.00 738.10,1560.10 803.60,1562.30 869.10,1563.20 934.60,1563.50 1000.10,1564.00 1065.60,1564.00 1131.10,1564.00 1196.60,1564.00 1262.10,1564.00 1327.60,1564.00 1393.10,1564.00" fill="none" stroke="#000" stroke-width="3.4" stroke-linejoin="round" stroke-linecap="square"/>
<circle cx="476.10" cy="1527.40" r="4.62" fill="#000"/>
<circle cx="541.60" cy="1542.40" r="4.62" fill="#000"/>
<circle cx="607.10" cy="1551.80" r="4.62" fill="#000"/>
<circle cx="672.60" cy="1557.00" r="4.62" fill="#000"/>
<circle cx="738.10" cy="1560.10" r="4.62" fill="#000"/>
<circle cx="803.60" cy="1562.30" r="4.62" fill="#000"/>
<circle cx="869.10" cy="1563.20" r="4.62" fill="#000"/>
<circle cx="934.60" cy="1563.50" r="4.62" fill="#000"/>
<circle cx="1000.10" cy="1564.00" r="4.62" fill="#000"/>
<circle cx="1065.60" cy="1564.00" r="4.62" fill="#000"/>
<circle cx="1131.10" cy="1564.00" r="4.62" fill="#000"/>
<circle cx="1196.60" cy="1564.00" r="4.62" fill="#000"/>
<circle cx="1262.10" cy="1564.00" r="4.62" fill="#000"/>
<circle cx="1327.60" cy="1564.00" r="4.62" fill="#000"/>
<circle cx="1393.10" cy="1564.00" r="4.62" fill="#000"/>
<rect x="1439.2" y="1437.7" width="154.50" height="310.50" fill="#fff" stroke="#6a6a6a" stroke-width="1.3"/>
<line x1="1454.6" y1="1455.00" x2="1492.3" y2="1455.00" stroke="#808080" stroke-width="3.1999999999999997"/>
<path d="M1473.45 1451.04L1477.41 1458.30L1469.49 1458.30Z" fill="#8a8a8a"/>
<text transform="translate(1495.73,1462.40) scale(1,1.04)" font-size="21.3" font-weight="normal" text-anchor="start" fill="#000" >2 GHz</text>
<line x1="1456.6" y1="1489.47" x2="1491.5" y2="1489.47" stroke="#000" stroke-width="7.0" stroke-linecap="round"/>
<text transform="translate(1495.73,1496.87) scale(1,1.04)" font-size="21.3" font-weight="normal" text-anchor="start" fill="#000" >20 GHz</text>
<line x1="1454.6" y1="1523.94" x2="1492.3" y2="1523.94" stroke="#808080" stroke-width="3.1999999999999997"/>
<path d="M1468.61 1520.20L1478.29 1527.68M1478.29 1520.20L1468.61 1527.68M1473.45 1519.32V1528.56" stroke="#8a8a8a" stroke-width="1.6" fill="none"/>
<text transform="translate(1496.31,1531.34) scale(1,1.04)" font-size="21.3" font-weight="normal" text-anchor="start" fill="#000" >40 GHz</text>
<line x1="1454.6" y1="1558.41" x2="1492.3" y2="1558.41" stroke="#000" stroke-width="3.1"/>
<circle cx="1473.45" cy="1558.41" r="4.20" fill="#8c8c8c" stroke="#111" stroke-width="1.8"/>
<text transform="translate(1495.95,1565.81) scale(1,1.04)" font-size="21.3" font-weight="normal" text-anchor="start" fill="#000" >50 GHz</text>
<line x1="1454.6" y1="1592.88" x2="1492.3" y2="1592.88" stroke="#000" stroke-width="3.1"/>

<text transform="translate(1495.72,1600.28) scale(1,1.04)" font-size="21.3" font-weight="normal" text-anchor="start" fill="#000" >65 GHz</text>
<line x1="1454.6" y1="1627.35" x2="1492.3" y2="1627.35" stroke="#000" stroke-width="3.1"/>
<path d="M1473.45 1622.95L1477.45 1627.35L1473.45 1631.75L1469.45 1627.35Z" fill="none" stroke="#8a8a8a" stroke-width="1.4"/>
<text transform="translate(1495.71,1634.75) scale(1,1.04)" font-size="21.3" font-weight="normal" text-anchor="start" fill="#000" >70 GHz</text>
<line x1="1454.6" y1="1661.82" x2="1492.3" y2="1661.82" stroke="#000" stroke-width="3.1"/>
<path d="M1473.45 1656.76L1477.63 1666.00L1469.27 1666.00Z" fill="#000"/>
<text transform="translate(1495.87,1669.22) scale(1,1.04)" font-size="21.3" font-weight="normal" text-anchor="start" fill="#000" >80 GHz</text>
<line x1="1454.6" y1="1696.29" x2="1492.3" y2="1696.29" stroke="#000" stroke-width="3.1"/>
<rect x="1470.25" y="1693.09" width="6.40" height="6.40" fill="none" stroke="#000" stroke-width="1.6"/>
<text transform="translate(1495.80,1703.69) scale(1,1.04)" font-size="21.3" font-weight="normal" text-anchor="start" fill="#000" >95 GHz</text>
<line x1="1454.6" y1="1730.76" x2="1492.3" y2="1730.76" stroke="#000" stroke-width="3.1"/>
<circle cx="1473.45" cy="1730.76" r="4.62" fill="#000"/>
<text transform="translate(1495.18,1738.16) scale(1,1.04)" font-size="21.3" font-weight="normal" text-anchor="start" fill="#000" >110 GHz</text>
<text transform="translate(450.50,1297.60) scale(1,1.04)" font-size="29.7" font-weight="normal" text-anchor="end" fill="#000" >100</text>
<text transform="translate(450.50,1535.80) scale(1,1.04)" font-size="29.7" font-weight="normal" text-anchor="end" fill="#000" >10</text>
<text transform="translate(450.50,1774.40) scale(1,1.04)" font-size="29.7" font-weight="normal" text-anchor="end" fill="#000" >1</text>
<text transform="translate(476.10,1810.20) scale(1,1.04)" font-size="29.7" font-weight="normal" text-anchor="middle" fill="#000" >-80</text>
<text transform="translate(607.10,1810.20) scale(1,1.04)" font-size="29.7" font-weight="normal" text-anchor="middle" fill="#000" >-70</text>
<text transform="translate(738.10,1810.20) scale(1,1.04)" font-size="29.7" font-weight="normal" text-anchor="middle" fill="#000" >-60</text>
<text transform="translate(869.10,1810.20) scale(1,1.04)" font-size="29.7" font-weight="normal" text-anchor="middle" fill="#000" >-50</text>
<text transform="translate(1000.10,1810.20) scale(1,1.04)" font-size="29.7" font-weight="normal" text-anchor="middle" fill="#000" >-40</text>
<text transform="translate(1131.10,1810.20) scale(1,1.04)" font-size="29.7" font-weight="normal" text-anchor="middle" fill="#000" >-30</text>
<text transform="translate(1262.10,1810.20) scale(1,1.04)" font-size="29.7" font-weight="normal" text-anchor="middle" fill="#000" >-20</text>
<text transform="translate(1393.10,1810.20) scale(1,1.04)" font-size="29.7" font-weight="normal" text-anchor="middle" fill="#000" >-10</text>
<text transform="translate(725.23,1216.50) scale(1,1.04)" font-size="35.9" font-weight="bold" text-anchor="start" fill="#000" >O/E Phase Uncertainty;</text>
<text transform="translate(570.20,1258.10) scale(1,1.04)" font-size="35.9" font-weight="bold" text-anchor="start" fill="#000" >ME7848A/E-0211, 1310 nm, 95% coverage</text>
<text transform="translate(657.90,1869.70) scale(1,1.04)" font-size="29.9" font-weight="bold" text-anchor="start" fill="#000" >Detector Output Level (dBm)</text>
<g transform="translate(341.7,1726.3) rotate(-90)">
<text transform="translate(-1.71,0.00) scale(1,1.04)" font-size="28.5" font-weight="bold" text-anchor="start" fill="#000" >Uncertainty, k=2 (Degrees)</text>
</g>
<rect x="173.5" y="2386" width="1573.3" height="1.6" fill="#6b878a"/>
<text x="172.92" y="2415.00" font-size="29.5" font-weight="normal" text-anchor="start" fill="#1a1a1a"  textLength="109.54" lengthAdjust="spacingAndGlyphs">24 of 70</text>
<text x="791.68" y="2415.30" font-size="29.5" font-weight="normal" text-anchor="start" fill="#1a1a1a"  textLength="336.84" lengthAdjust="spacingAndGlyphs">PN: 11410-01145  Rev. M</text>
<text x="1532.08" y="2415.10" font-size="29.5" font-weight="normal" text-anchor="start" fill="#1a1a1a"  textLength="215.57" lengthAdjust="spacingAndGlyphs">ME7848A/E TDS</text>
</svg>
</body></html>
